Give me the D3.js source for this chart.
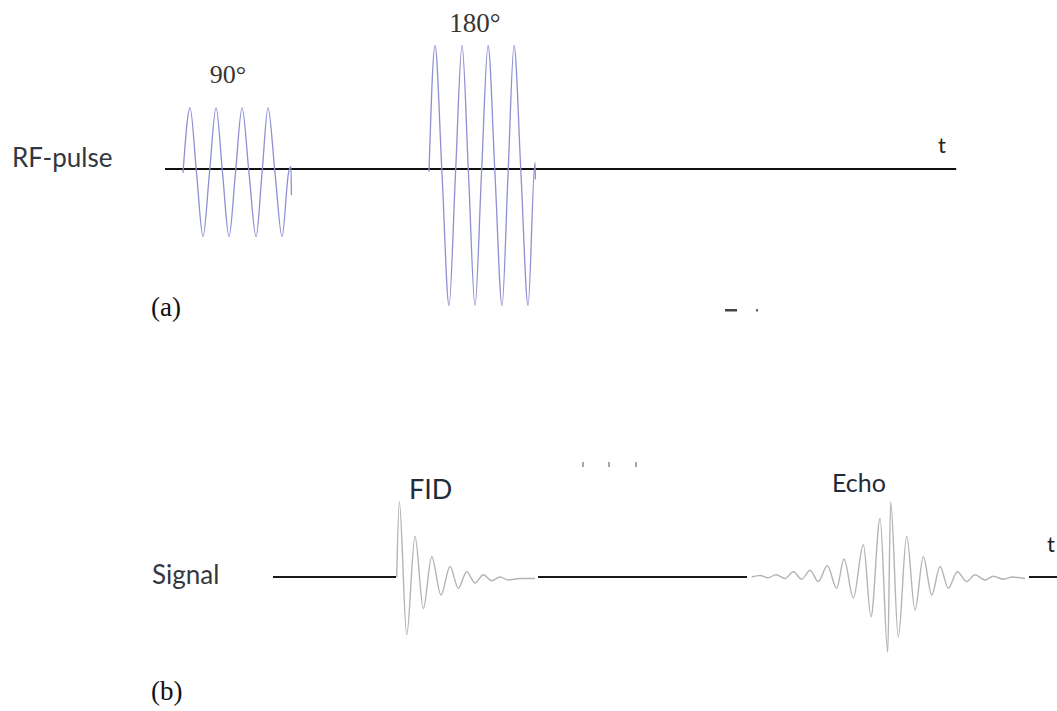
<!DOCTYPE html>
<html>
<head>
<meta charset="utf-8">
<script src="https://cdn.jsdelivr.net/npm/d3@7"></script>
<style>
  html, body { margin: 0; padding: 0; background: #fff; }
  svg { display: block; }
</style>
</head>
<body>
<svg id="chart" width="1057" height="711"></svg>
<script>
// ---- Data (time in arbitrary units, amplitude normalised) ----
const pulse90 = [[2.25,-0.03],[3.13,0.47],[3.94,-0.03],[4.75,-0.52],[5.56,-0.03],[6.38,0.47],[7.19,-0.03],[8.0,-0.52],[8.81,-0.03],[9.63,0.47],[10.5,-0.03],[11.38,-0.52],[12.13,-0.03],[12.88,0.47],[13.75,-0.03],[14.63,-0.52],[15.44,-0.03],[15.75,0.02],[15.8,-0.2]];
const pulse180 = [[33.0,-0.02],[33.75,0.95],[34.63,-0.04],[35.5,-1.05],[36.31,-0.04],[37.13,0.95],[37.94,-0.04],[38.75,-1.05],[39.56,-0.04],[40.38,0.95],[41.25,-0.04],[42.13,-1.05],[42.88,-0.04],[43.63,0.95],[44.5,-0.04],[45.38,-1.05],[46.25,0.05],[46.3,-0.08]];
const rfAxis = [0, 98.9];

const fid = [[15.46,0],[15.79,1.0],[16.71,-0.77],[17.75,0.54],[18.79,-0.42],[19.84,0.27],[21.0,-0.24],[22.13,0.14],[23.16,-0.15],[24.21,0.07],[25.25,-0.08],[26.29,0.03],[27.34,-0.05],[28.38,0.0],[29.41,-0.04],[30.88,-0.02],[32.75,-0.02]];
const echo = [[59.84,0],[60.88,0.02],[61.88,-0.01],[62.88,0.03],[64.0,-0.02],[65.04,0.07],[66.09,-0.03],[67.13,0.09],[68.16,-0.06],[69.29,0.15],[70.46,-0.15],[71.38,0.24],[72.54,-0.28],[73.79,0.43],[74.75,-0.53],[75.88,0.78],[76.84,-1.0],[77.21,1.0],[78.16,-0.8],[79.21,0.54],[80.25,-0.44],[81.29,0.27],[82.34,-0.24],[83.38,0.14],[84.41,-0.15],[85.54,0.07],[86.71,-0.06],[87.75,0.03],[89.0,-0.04],[90.04,0.01],[91.29,-0.03],[92.38,0.0],[94.0,-0.02]];
const signalAxis = [[0,15.38],[33.13,59.25],[94.5,98]];

const pulseLabels = ["90°", "180°"];
const signalLabels = ["FID", "Echo"];
const rowLabels = ["RF-pulse", "Signal"];
const panelLabels = ["(a)", "(b)"];
const axisLabel = "t";

// ---- Scales ----
const xTop = d3.scaleLinear().domain([0,100]).range([165,965]);
const yTop = d3.scaleLinear().domain([-1,1]).range([299,39]);
const xBot = d3.scaleLinear().domain([0,100]).range([273,1073]);
const yBot = d3.scaleLinear().domain([-1,1]).range([652,502]);

const svg = d3.select("#chart");

const lineTop = d3.line().x(d=>xTop(d[0])).y(d=>yTop(d[1])).curve(d3.curveMonotoneX);
const lineBot = d3.line().x(d=>xBot(d[0])).y(d=>yBot(d[1])).curve(d3.curveMonotoneX);

// ---- Top panel ----
svg.append("line")
  .attr("x1", xTop(rfAxis[0])).attr("x2", xTop(rfAxis[1]))
  .attr("y1", yTop(0)).attr("y2", yTop(0))
  .attr("stroke", "#111").attr("stroke-width", 2);

[pulse90, pulse180].forEach(p => {
  svg.append("path").datum(p)
    .attr("d", lineTop)
    .attr("fill", "none")
    .attr("stroke", "#8e90d2")
    .attr("stroke-width", 1.3);
});

const serif = "'Liberation Serif', 'DejaVu Serif', serif";
const sans = "Lato, 'Open Sans', sans-serif";

svg.append("text").text(pulseLabels[0])
  .attr("x", 228).attr("y", 83).attr("text-anchor", "middle")
  .attr("font-family", serif).attr("font-size", 26).attr("fill", "#3b352f");
svg.append("text").text(pulseLabels[1])
  .attr("x", 475).attr("y", 32).attr("text-anchor", "middle")
  .attr("font-family", serif).attr("font-size", 27).attr("fill", "#3b352f");

svg.append("text").text(rowLabels[0])
  .attr("x", 12).attr("y", 167)
  .attr("font-family", sans).attr("font-size", 26).attr("fill", "#333740");

svg.append("text").text(axisLabel)
  .attr("x", 942).attr("y", 153).attr("text-anchor", "middle")
  .attr("font-family", sans).attr("font-size", 22).attr("fill", "#222");

svg.append("text").text(panelLabels[0])
  .attr("x", 151).attr("y", 316)
  .attr("font-family", serif).attr("font-size", 27).attr("fill", "#111");

// cropped fragment marks under the top panel
svg.append("rect").attr("x", 725).attr("y", 309).attr("width", 12).attr("height", 2.5).attr("fill", "#444");
svg.append("rect").attr("x", 756).attr("y", 309).attr("width", 2).attr("height", 2.5).attr("fill", "#666");

// small dots between panels
[583, 609, 636].forEach(x => {
  svg.append("rect").attr("x", x-1).attr("y", 462).attr("width", 2).attr("height", 5)
    .attr("fill", "#8a90a8").attr("opacity", 0.8);
});

// ---- Bottom panel ----
signalAxis.forEach(s => {
  svg.append("line")
    .attr("x1", xBot(s[0])).attr("x2", xBot(s[1]))
    .attr("y1", yBot(0)).attr("y2", yBot(0))
    .attr("stroke", "#1a1a1a").attr("stroke-width", 2);
});

[fid, echo].forEach(p => {
  svg.append("path").datum(p)
    .attr("d", lineBot)
    .attr("fill", "none")
    .attr("stroke", "#b4b4b4")
    .attr("stroke-width", 1.4);
});

svg.append("text").text(rowLabels[1])
  .attr("x", 152).attr("y", 584)
  .attr("font-family", sans).attr("font-size", 26).attr("fill", "#333740");

svg.append("text").text(signalLabels[0])
  .attr("x", 409).attr("y", 499)
  .attr("font-family", sans).attr("font-size", 27).attr("fill", "#1f2a3a");
svg.append("text").text(signalLabels[1])
  .attr("x", 832).attr("y", 492)
  .attr("font-family", sans).attr("font-size", 25).attr("fill", "#1f2a3a");

svg.append("text").text(axisLabel)
  .attr("x", 1051).attr("y", 552).attr("text-anchor", "middle")
  .attr("font-family", sans).attr("font-size", 22).attr("fill", "#222");

svg.append("text").text(panelLabels[1])
  .attr("x", 151).attr("y", 700)
  .attr("font-family", serif).attr("font-size", 27).attr("fill", "#111");
</script>
</body>
</html>
